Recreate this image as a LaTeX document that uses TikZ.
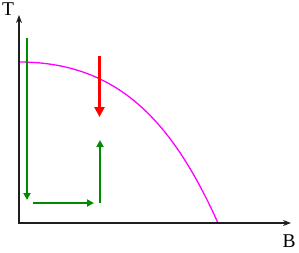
\documentclass[tikz,border=0pt]{standalone}
\usepackage{fontspec}
\setmainfont{Liberation Serif}
\usetikzlibrary{arrows.meta}
\definecolor{grn}{RGB}{0,140,0}
\definecolor{mag}{RGB}{255,0,255}
\definecolor{axisc}{RGB}{30,30,30}
\begin{document}
\begin{tikzpicture}[x=1pt,y=-1pt,
  axis/.style={draw=axisc,line width=1.4pt,-{Stealth[length=8pt,width=6pt]}},
  garrow/.style={draw=grn,line width=2pt,-{Triangle[length=7pt,width=7pt]}},
  rarrow/.style={draw=red,line width=3.5pt,-{Triangle[length=10pt,width=10pt]}},
  lbl/.style={font=\fontsize{19.5}{20}\selectfont,inner sep=0pt,text depth=0pt,anchor=base}]
\useasboundingbox (0,0) rectangle (299,252);
\coordinate (O) at (19,223);
\coordinate (Ytip) at (19,15);
\coordinate (Xtip) at (291,223);
\node[lbl] (T) at (8,15) {T};
\node[lbl] (B) at (289,247) {B};
% magenta phase boundary
\coordinate (c0) at (19,62);
\coordinate (c3) at (218,223);
\draw[mag,line width=1.3pt] (c0) .. controls (119,62) and (173,123) .. (c3);
\draw[axis] (19,223.7) -- (Ytip);
\draw[axis] (18.3,223) -- (Xtip);
% green path
\coordinate (g1s) at (27,38);
\coordinate (g1e) at (27,200);
\coordinate (g2s) at (33,203);
\coordinate (g2e) at (94,203);
\coordinate (g3s) at (100,203);
\coordinate (g3e) at (100,140);
\draw[garrow] (g1s) -- (g1e);
\draw[garrow] (g2s) -- (g2e);
\draw[garrow] (g3s) -- (g3e);
% red arrow
\coordinate (rs) at (99.5,56);
\coordinate (re) at (99.5,117);
\draw[rarrow] (rs) -- (re);
\end{tikzpicture}
\end{document}
